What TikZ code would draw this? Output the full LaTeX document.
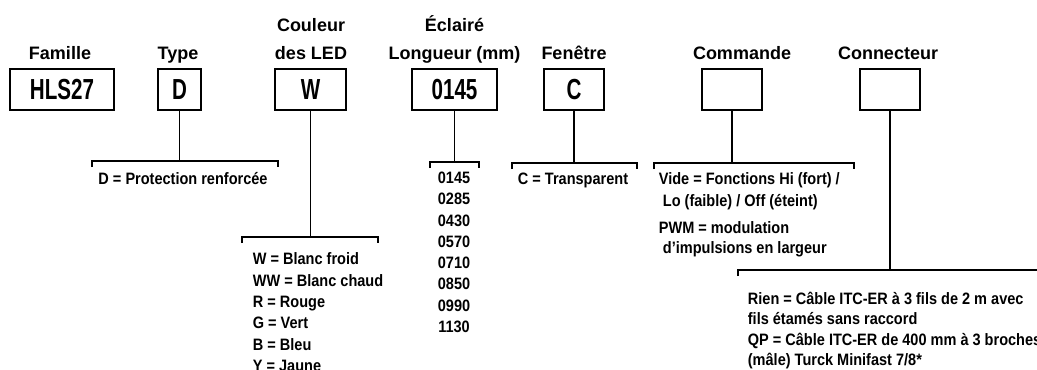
\documentclass[tikz,border=0pt]{standalone}
\usepackage{fontspec}
\setmainfont{Liberation Sans}
\newfontfamily\narrowfont{Liberation Sans}[FakeStretch=0.71]
\newfontfamily\descfont{Liberation Sans}[FakeStretch=0.88]
\usetikzlibrary{positioning}

\begin{document}
\begin{tikzpicture}[x=0.5pt,y=-0.5pt,line width=0.9pt]
    \tikzstyle{cbox}=[rectangle,draw,line width=1pt,minimum height=20.5pt,inner sep=0pt,font=\fontsize{14.5}{14.5}\narrowfont\bfseries];
    \tikzstyle{hd}=[inner sep=0pt,text depth=0pt,anchor=south,align=center,font=\fontsize{9}{14}\selectfont\bfseries];
    \tikzstyle{desc}=[inner sep=0pt,anchor=north west,align=left,font=\fontsize{8.25}{10.65}\descfont\bfseries];
    \useasboundingbox (0,0) rectangle (1037,369);
    \clip (0,0) rectangle (1037,369);
    \node[cbox,minimum width=52pt]   (fam) at (62,89.5)    {HLS27};
    \node[cbox,minimum width=21.5pt] (typ) at (179.5,89.5) {D};
    \node[cbox,minimum width=35.5pt] (led) at (310.5,89.5) {W};
    \node[cbox,minimum width=42.5pt] (len) at (454.5,89.5) {0145};
    \node[cbox,minimum width=30pt]   (win) at (574,89.5)   {C};
    \node[cbox,minimum width=30pt]   (cmd) at (732,89.5)   {};
    \node[cbox,minimum width=30pt]   (con) at (890,89.5)   {};
    \node[hd] (famh) at (60,60)    {Famille};
    \node[hd] (typh) at (178,60)   {Type};
    \node[hd] (ledh) at (311,60)   {Couleur\\des LED};
    \node[hd] (lenh) at (454.5,60) {Éclairé\\Longueur (mm)};
    \node[hd] (winh) at (574,60)   {Fenêtre};
    \node[hd] (cmdh) at (742,60)   {Commande};
    \node[hd] (conh) at (888,60)   {Connecteur};
    \coordinate (dl) at (92,161);  \coordinate (dr) at (278,161);
    \coordinate (wl) at (242,237); \coordinate (wr) at (378,237);
    \coordinate (ll) at (430,162); \coordinate (lr) at (479,162);
    \coordinate (cl) at (512,163); \coordinate (cr) at (637,163);
    \coordinate (ml) at (654,163); \coordinate (mr) at (854,163);
    \coordinate (kl) at (738,270); \coordinate (kr) at (1045,270);
    \draw (typ.south) -- (typ.south |- dl);
    \draw (led.south) -- (led.south |- wl);
    \draw (len.south) -- (len.south |- ll);
    \draw (win.south) -- (win.south |- cl);
    \draw (cmd.south) -- (cmd.south |- ml);
    \draw (con.south) -- (con.south |- kl);
    \draw ([yshift=-3pt]dl) -- (dl) -- (dr) -- ([yshift=-3pt]dr);
    \draw ([yshift=-3pt]wl) -- (wl) -- (wr) -- ([yshift=-3pt]wr);
    \draw ([yshift=-3pt]ll) -- (ll) -- (lr) -- ([yshift=-3pt]lr);
    \draw ([yshift=-3pt]cl) -- (cl) -- (cr) -- ([yshift=-3pt]cr);
    \draw ([yshift=-3pt]ml) -- (ml) -- (mr) -- ([yshift=-3pt]mr);
    \draw ([yshift=-3pt]kl) -- (kl) -- (kr);
    \node[desc,anchor=base] (dtxt) at (183,184) {D = Protection renforcée};
    \node[desc,anchor=north,align=center] (ltxt) at (454,171)
       {0145\\0285\\0430\\0570\\0710\\0850\\0990\\1130};
    \node[desc] (wtxt) at (252,252)
       {W = Blanc froid\\WW = Blanc chaud\\R = Rouge\\G = Vert\\B = Bleu\\Y = Jaune};
    \node[desc,anchor=base] (ctxt) at (573,184) {C = Transparent};
    \node[desc,font=\fontsize{8.25}{11}\descfont\bfseries] (vtxt) at (658,172)
       {Vide = Fonctions Hi (fort) /\\\hspace*{2pt}Lo (faible) / Off (éteint)};
    \node[desc,font=\fontsize{8.25}{10}\descfont\bfseries] (ptxt) at (658,221)
       {PWM = modulation\\\hspace*{2pt}d’impulsions en largeur};
    \node[desc,font=\fontsize{8.25}{10.2}\descfont\bfseries] (rtxt) at (747,291)
       {Rien = Câble ITC-ER à 3 fils de 2 m avec\\fils étamés sans raccord\\QP = Câble ITC-ER de 400 mm à 3 broches\\(mâle) Turck Minifast 7/8*};
\end{tikzpicture}
\end{document}
